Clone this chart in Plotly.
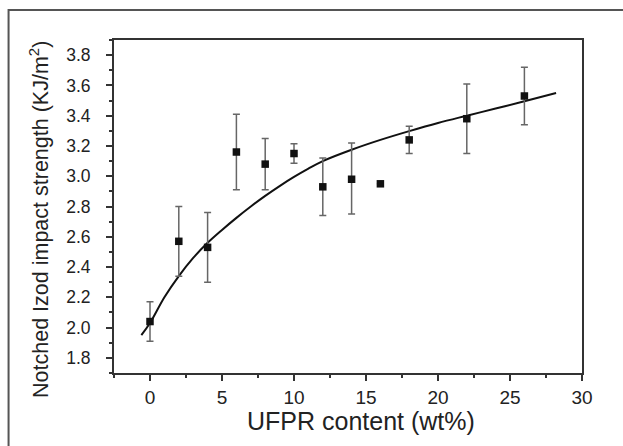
import plotly.graph_objects as go

# measured data
ufpr = [0, 2, 4, 6, 8, 10, 12, 14, 16, 18, 22, 26]
impact = [2.04, 2.57, 2.53, 3.16, 3.08, 3.15, 2.93, 2.98, 2.95, 3.24, 3.38, 3.53]
err_up = [0.13, 0.23, 0.23, 0.25, 0.17, 0.065, 0.19, 0.24, 0.0, 0.09, 0.23, 0.19]
err_down = [0.13, 0.23, 0.23, 0.25, 0.17, 0.065, 0.19, 0.23, 0.0, 0.09, 0.23, 0.19]

# fitted curve
fit_x = [-0.6, 0, 1, 2, 3, 4, 5, 6, 7, 8, 9, 10, 11, 12, 14, 16, 18, 20, 22, 24, 26, 28.2]
fit_y = [1.95, 2.03, 2.20, 2.34, 2.46, 2.56, 2.645, 2.725, 2.80, 2.87, 2.935, 2.995, 3.05, 3.10, 3.175,
         3.24, 3.298, 3.352, 3.40, 3.447, 3.495, 3.55]

x_ticks = [0, 5, 10, 15, 20, 25, 30]
y_ticks = [1.8, 2.0, 2.2, 2.4, 2.6, 2.8, 3.0, 3.2, 3.4, 3.6, 3.8]

x_title = "UFPR content (wt%)"
y_title = "Notched Izod impact strength (KJ/m<sup>2</sup>)"

fig = go.Figure()
fig.add_trace(go.Scatter(x=fit_x, y=fit_y, mode="lines", line=dict(color="#111", width=2, shape="spline"),
                         showlegend=False, hoverinfo="skip"))
fig.add_trace(go.Scatter(
    x=ufpr, y=impact, mode="markers",
    marker=dict(symbol="square", size=7.5, color="#111"),
    error_y=dict(type="data", array=err_up, arrayminus=err_down, color="#666", thickness=1.5, width=3.5),
    showlegend=False))

font_family = "Liberation Sans, Arial, sans-serif"
fig.update_layout(
    width=623, height=446,
    margin=dict(l=114, r=41, t=40, b=73),
    paper_bgcolor="white", plot_bgcolor="white",
    font=dict(family=font_family, color="#222"),
    xaxis=dict(range=[-2.5, 30], tickvals=x_ticks, ticktext=[str(v) for v in x_ticks],
               showgrid=False, zeroline=False, showline=True, linecolor="#333", linewidth=2,
               mirror=True, ticks="outside", ticklen=6, tickwidth=1.5, tickcolor="#333",
               minor=dict(dtick=2.5, tick0=0, ticks="outside", ticklen=3, tickwidth=1.5, tickcolor="#333"),
               tickfont=dict(size=19), ticklabelstandoff=0),
    yaxis=dict(range=[1.7, 3.9], tickvals=y_ticks, ticktext=["%.1f" % v for v in y_ticks],
               showgrid=False, zeroline=False, showline=True, linecolor="#333", linewidth=2,
               mirror=True, ticks="outside", ticklen=6, tickwidth=1.5, tickcolor="#333",
               minor=dict(dtick=0.1, tick0=1.8, ticks="outside", ticklen=3, tickwidth=1.5, tickcolor="#333"),
               tickfont=dict(size=17.5), ticklabelstandoff=12),
    annotations=[
        dict(text=x_title, xref="paper", yref="paper", x=0.528, y=-0.143, showarrow=False,
             xanchor="center", yanchor="middle", font=dict(size=25, color="#222")),
        dict(text=y_title, xref="paper", yref="paper", x=-0.16, y=0.46, showarrow=False,
             textangle=-90, xanchor="center", yanchor="middle", font=dict(size=21.5, color="#222")),
    ],
    shapes=[dict(type="rect", xref="paper", yref="paper", x0=-0.2253, x1=1.3, y0=-0.5, y1=1.09,
                 line=dict(color="#555", width=2), fillcolor="rgba(0,0,0,0)", layer="below")],
)

fig.write_html("out.html")
